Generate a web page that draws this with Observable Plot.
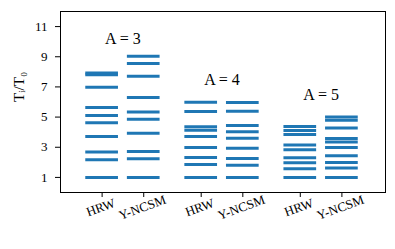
<!DOCTYPE html>
<html>
<head>
<meta charset="utf-8">
<script src="https://cdn.jsdelivr.net/npm/d3@7"></script>
<script src="https://cdn.jsdelivr.net/npm/@observablehq/plot@0.6"></script>
<style>
  html, body { margin: 0; padding: 0; background: #fff; }
</style>
</head>
<body>
<div id="chart"></div>
<script>
// ---- data ----
const groups = ["A = 3", "A = 4", "A = 5"];
const methods = ["HRW", "Y-NCSM"];
const hrwA3  = [1.0, 2.17, 2.68, 3.72, 4.62, 5.11, 5.64, 6.98, 7.80, 7.92];
const ncsmA3 = [1.0, 2.23, 2.72, 3.93, 4.86, 5.34, 6.30, 7.71, 8.55, 9.03];
const hrwA4  = [1.0, 1.86, 2.32, 2.99, 3.72, 4.12, 4.36, 5.37, 5.99];
const ncsmA4 = [1.0, 1.81, 2.26, 2.94, 3.60, 4.02, 4.44, 5.39, 5.97];
const hrwA5  = [1.0, 1.57, 1.97, 2.30, 2.83, 3.15, 3.85, 4.11, 4.38];
const ncsmA5 = [1.0, 1.62, 1.99, 2.43, 2.99, 3.34, 3.58, 4.28, 4.79, 5.01];
const groupLabelY = [10.2, 7.5, 6.5];
const yTicks = [1, 3, 5, 7, 9, 11];
const yLabel = "Tᵢ/T₀";

// ---- build tables ----
const levels = [[hrwA3, ncsmA3], [hrwA4, ncsmA4], [hrwA5, ncsmA5]];
const offset = 0.21, half = 0.165;
const pos = (gi, mi) => gi + 1 + (mi === 0 ? -offset : offset);
const rows = [];
const tickRows = [];
levels.forEach((pair, gi) => pair.forEach((vals, mi) => {
  tickRows.push({x: pos(gi, mi), label: methods[mi]});
  vals.forEach(v => rows.push({x: pos(gi, mi), y: v}));
}));
const groupRows = groups.map((g, gi) => ({x: gi + 1, y: groupLabelY[gi], text: g}));
const serif = "Liberation Serif";

const svg = Plot.plot({
  width: 395, height: 249, marginLeft: 60, marginRight: 10, marginTop: 11, marginBottom: 57,
  x: {domain: [0.37, 3.65]}, y: {domain: [0, 12]},
  style: {fontFamily: serif, fontSize: "12px", color: "black", background: "white"},
  marks: [
    Plot.ruleY(rows, {y: "y", x1: d => d.x - half, x2: d => d.x + half, stroke: "#1f77b4", strokeWidth: 3}),
    Plot.axisY({ticks: yTicks, tickSize: 5, tickPadding: 8, label: null, fontSize: 13}),
    Plot.axisX({ticks: tickRows.map(d => d.x), tickSize: 5, tickFormat: () => "", label: null}),
    Plot.text(tickRows, {x: "x", frameAnchor: "bottom", text: "label", rotate: -20, dy: 19, fontSize: 13}),
    Plot.text(groupRows, {x: "x", y: "y", text: "text", fontSize: 16}),
    Plot.text([yLabel], {frameAnchor: "left", text: d => d, rotate: -90, dx: -41, fontSize: 15}),
    Plot.frame({stroke: "black", strokeWidth: 1})
  ]
});

document.getElementById("chart").appendChild(svg);
</script>
</body>
</html>
